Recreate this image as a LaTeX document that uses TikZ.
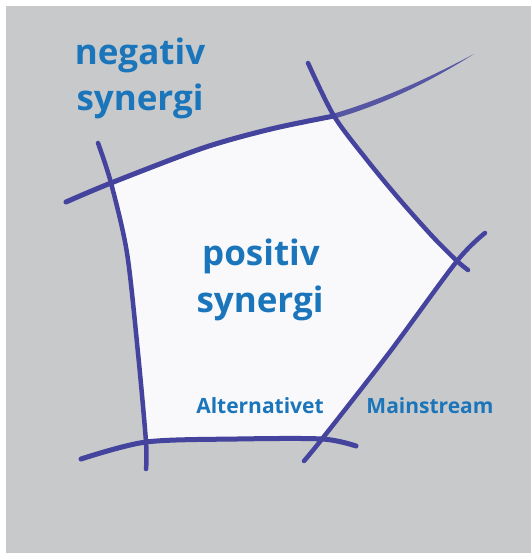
\documentclass[tikz,border=0pt]{standalone}
\usepackage{fontspec}
\setmainfont{Open Sans}
\definecolor{inkblue}{HTML}{44439D}
\definecolor{textblue}{HTML}{1A75BB}
\definecolor{bggray}{HTML}{C8C9CB}
\definecolor{paperwhite}{HTML}{F9F9FB}

\begin{document}
\begin{tikzpicture}[x=1pt, y=-1pt,
    stroke/.style={draw=inkblue, line width=5pt, line cap=round, line join=round},
    biglabel/.style={font=\fontsize{35}{42}\selectfont\bfseries, text=textblue, inner sep=0pt, anchor=base},
    smalllabel/.style={font=\fontsize{21}{25}\selectfont\bfseries, text=textblue, inner sep=0pt, anchor=base}
]

% --- canvas ---
\useasboundingbox (0,0) rectangle (531,553);
\fill[white] (0,0) rectangle (531,553);
\fill[bggray] (6,6) rectangle (531,553);

% --- corners of the inner field ---
\coordinate (tl) at (111,183);
\coordinate (tr) at (334,116);
\coordinate (rt) at (457,261);
\coordinate (br) at (322,439);
\coordinate (bl) at (146,442);

% --- white field ---
\fill[paperwhite] plot[smooth] coordinates {(tl) (203,148) (271,129) (tr)}
    -- plot[smooth] coordinates {(tr) (367,160) (400,200) (433,237) (rt)}
    -- plot[smooth] coordinates {(rt) (389,353) (br)}
    -- plot[smooth] coordinates {(br) (237,439) (bl)}
    -- plot[smooth] coordinates {(bl) (138,353) (127,253) (tl)} -- cycle;

% --- strokes ---
\draw[stroke] plot[smooth] coordinates {(66,202) (tl) (203,148) (271,129) (tr)};
\fill[inkblue, opacity=0.85] (334,113.5) .. controls (390,97) and (440,72) .. (474,54)
    .. controls (440,75) and (395,101) .. (335,118.5) -- cycle;
\draw[stroke, line width=4.5pt] plot[smooth] coordinates {(98,143) (tl) (127,253) (138,353) (bl) (146,469)};
\draw[stroke, line width=4.5pt] plot[smooth] coordinates {(308,63) (tr) (367,160) (400,200) (433,237) (rt) (468,270)};
\draw[stroke, line width=4.5pt] plot[smooth] coordinates {(485,233) (rt) (389,353) (br) (304,461)};
\draw[stroke] plot[smooth] coordinates {(81,459) (bl) (237,439) (br) (356,446)};

% --- labels ---
\node[biglabel] (negtop) at (140,65) {negativ};
\node[biglabel] (negbot) at (140,111) {synergi};
\node[biglabel] (postop) at (261,265) {positiv};
\node[biglabel] (posbot) at (260,312) {synergi};
\node[smalllabel] (alt) at (260,413) {Alternativet};
\node[smalllabel] (main) at (430,413) {Mainstream};

\end{tikzpicture}
\end{document}
